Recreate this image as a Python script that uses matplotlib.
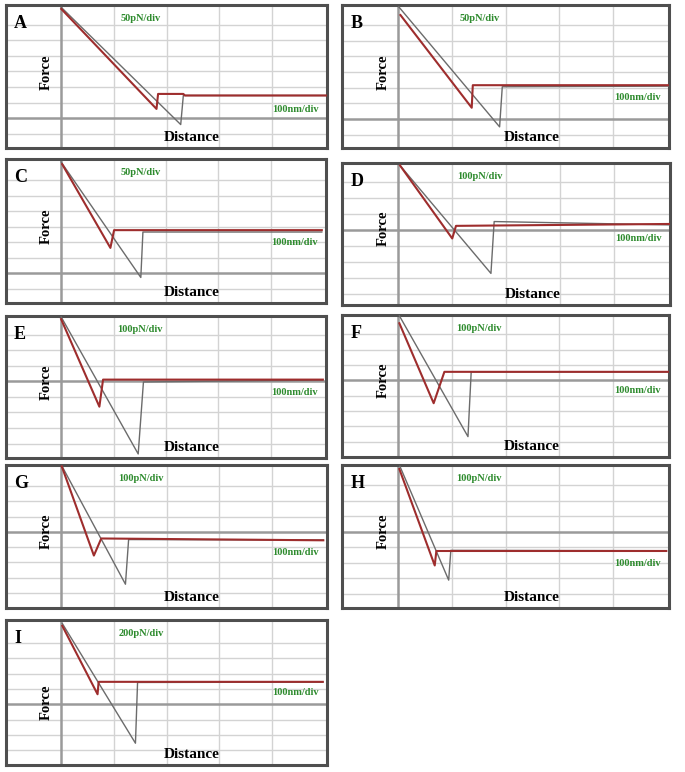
import matplotlib
matplotlib.use('Agg')
import matplotlib.pyplot as plt

# ---------------- data (distance in nm, force in pN) ----------------
labels = ['A', 'B', 'C', 'D', 'E', 'F', 'G', 'H', 'I']
force_scale = [50, 50, 50, 100, 100, 100, 100, 100, 200]   # pN per division
dist_scale = 100                                           # nm per division

approach_x = [
    [0, 227, 232, 503],
    [1, 189, 194, 508],
    [0, 152, 156, 497],
    [3, 172, 178, 506],
    [0, 147, 157, 499],
    [2, 130, 136, 505],
    [1, 122, 128, 498],
    [3, 94, 98, 500],
    [2, 141, 145, 497],
]
approach_y = [
    [355, -20, 73, 73],
    [358, -25, 103, 105],
    [358, -13, 133, 133],
    [404, -272, 53, 32],
    [415, -467, -4, 8],
    [422, -367, 56, 56],
    [433, -344, -51, -54],
    [420, -311, -120, -122],
    [1054, -506, 286, 290],
]
retract_x = [
    [0, 181, 184, 232, 235, 503],
    [4, 137, 139, 508],
    [2, 94, 101, 497],
    [3, 100, 107, 506],
    [0, 73, 80, 499],
    [2, 66, 86, 505],
    [1, 62, 76, 498],
    [2, 68, 71, 500],
    [2, 69, 71, 497],
]
retract_y = [
    [350, 30, 78, 78, 73, 73],
    [332, 36, 108, 108],
    [351, 82, 139, 139],
    [404, -53, 26, 38],
    [400, -163, 11, 11],
    [373, -149, 56, 56],
    [429, -156, -44, -56],
    [402, -217, -124, -124],
    [1024, 132, 294, 294],
]

# ---------------- layout ----------------
W, H = 685, 772
boxes = [  # left, top, right, bottom (pixels)
    (6, 5, 327, 148), (342, 5, 669, 148),
    (6, 159, 326, 303), (342, 163, 670, 305),
    (6, 316, 326, 458), (342, 315, 669, 457),
    (6, 465, 327, 608), (342, 465, 669, 608),
    (6, 620, 327, 765),
]
ylims_div = [(-1.9, 7.25), (-1.85, 7.28), (-1.9, 7.35), (-4.7, 4.2), (-4.93, 4.2),
             (-5.0, 4.27), (-5.0, 4.38), (-4.9, 4.28), (-3.95, 5.5)]
xlim_div = (-1.05, 5.05)
nm_label_y = [0.27, 0.35, 0.42, 0.47, 0.46, 0.47, 0.39, 0.31, 0.50]
force_label_y = [0.53, 0.53, 0.53, 0.54, 0.535, 0.54, 0.54, 0.54, 0.43]

GRID = '#d3d3d3'
AXIS = '#9a9a9a'
GRAY = '#6b6b6b'
RED = '#9e2d2d'
GREEN = '#2e8b2e'
SERIF = ['Liberation Serif', 'DejaVu Serif']

fig = plt.figure(figsize=(W / 100, H / 100), dpi=100)
fig.patch.set_facecolor('white')

for i, lab in enumerate(labels):
    l, t, r, b = boxes[i]
    ax = fig.add_axes([l / W, 1 - b / H, (r - l) / W, (b - t) / H])
    s = force_scale[i]
    y0, y1 = ylims_div[i]
    ax.set_xlim(xlim_div[0] * dist_scale, xlim_div[1] * dist_scale)
    ax.set_ylim(y0 * s, y1 * s)
    ax.set_xticks([])
    ax.set_yticks([])
    for sp in ax.spines.values():
        sp.set_color('#4f4f4f')
        sp.set_linewidth(2.2)

    # graticule
    for k in range(1, 5):
        ax.axvline(k * dist_scale, color=GRID, lw=1.0, zorder=1)
    for k in range(int(y0) - 1, int(y1) + 2):
        if k == 0:
            continue
        if y0 + 0.3 < k < y1 - 0.6:
            ax.axhline(k * s, color=GRID, lw=1.0, zorder=1)
    ax.axhline(0, color=AXIS, lw=1.8, zorder=2)
    ax.axvline(0, color=AXIS, lw=1.8, zorder=2)

    # curves
    ax.plot(approach_x[i], approach_y[i], color=GRAY, lw=1.0, zorder=3)
    ax.plot(retract_x[i], retract_y[i], color=RED, lw=1.5, zorder=4)

    # texts
    ax.text(0.025, 0.87, lab, transform=ax.transAxes, fontsize=13, fontweight='bold',
            family=SERIF, ha='left', va='center', zorder=5)
    ax.text(0.125, force_label_y[i], 'Force', transform=ax.transAxes, rotation=90,
            fontsize=10.5, fontweight='bold', family=SERIF, ha='center', va='center', zorder=5)
    ax.text(0.58, 0.075, 'Distance', transform=ax.transAxes, fontsize=11,
            fontweight='bold', family=SERIF, ha='center', va='center', zorder=5)
    ax.text(0.42, 0.905, f'{s}pN/div', transform=ax.transAxes, fontsize=7.5,
            fontweight='bold', family=SERIF, color=GREEN, ha='center', va='center', zorder=5)
    ax.text(0.975, nm_label_y[i], f'{dist_scale}nm/div', transform=ax.transAxes,
            fontsize=7.5, fontweight='bold', family=SERIF, color=GREEN,
            ha='right', va='center', zorder=5)

fig.savefig('out.png', dpi=100, facecolor='white')
